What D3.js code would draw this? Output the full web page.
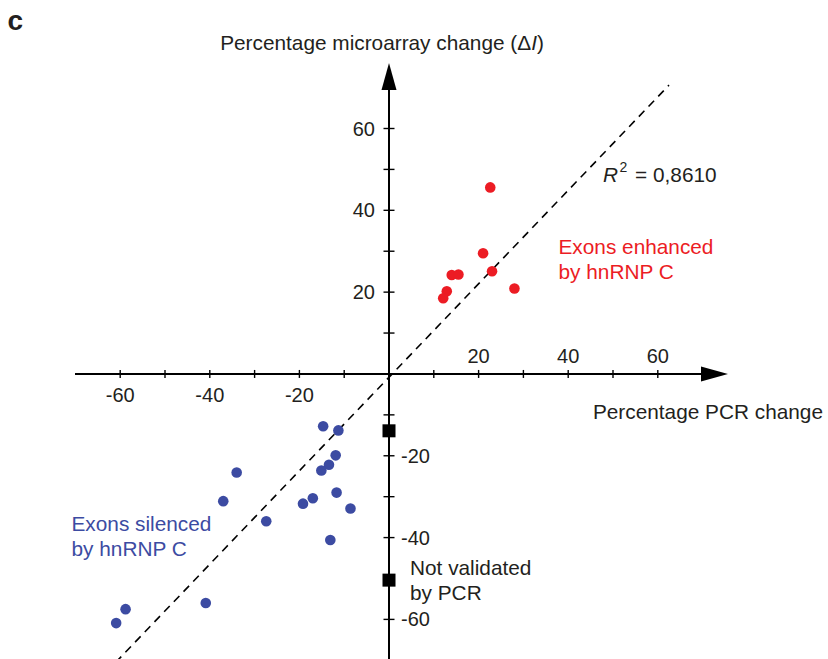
<!DOCTYPE html>
<html>
<head>
<meta charset="utf-8">
<script src="https://cdn.jsdelivr.net/npm/d3@7"></script>
<style>
  html, body { margin: 0; padding: 0; background: #fff; }
  svg { display: block; font-family: 'Liberation Sans', Arial, Helvetica, sans-serif; }
</style>
</head>
<body>
<div id="chart"></div>
<script>
// Data: exons enhanced by hnRNP C (red)
const enhancedX = [22.6, 21.0, 14.0, 15.5, 23.0, 12.9, 12.1, 28.0]
const enhancedY = [45.6, 29.5, 24.2, 24.3, 25.1, 20.2, 18.5, 20.9]

// Data: exons silenced by hnRNP C (blue)
const silencedX = [-14.7, -11.3, -11.9, -13.4, -15.1, -34.0, -37.0, -19.2, -17.0, -11.7, -8.6, -27.4, -13.1, -40.9, -58.8, -60.9]
const silencedY = [-12.8, -13.8, -19.9, -22.2, -23.6, -24.1, -31.1, -31.7, -30.4, -29.0, -32.9, -36.0, -40.6, -56.0, -57.5, -60.9]

// Data: not validated by PCR (on the y axis)
const notValidatedY = [-13.9, -50.4]

// Regression line endpoints
const fitX = [-61, 62.5]
const fitY = [-70.5, 70.6]

// Ticks
const tickValues = [-60, -50, -40, -30, -20, -10, 10, 20, 30, 40, 50, 60]
const labelValues = [-60, -40, -20, 20, 40, 60]

// Colors
const enhancedColor = '#ec1c24'
const silencedColor = '#3c4ba2'
const fontColor = '#231f20'

// Dimensions
const width = 828
const height = 659
const fontSize = 20.8
const tickFontSize = 20
const lineGap = 25.3

const svg = d3.select('#chart')
    .append('svg')
    .attr('width', width)
    .attr('height', height)

const x = d3.scaleLinear().domain([-60, 60]).range([120.2, 657.8])
const y = d3.scaleLinear().domain([-60, 60]).range([619.4, 128.5])

const x0 = x(0)
const y0 = y(0)

// Regression line
svg.append('line')
    .attr('x1', x(fitX[0])).attr('y1', y(fitY[0]))
    .attr('x2', x(fitX[1])).attr('y2', y(fitY[1]))
    .attr('stroke', '#000')
    .attr('stroke-width', 1.6)
    .attr('stroke-dasharray', '8,6')

// Axes
const axes = svg.append('g').attr('stroke', '#000')
axes.append('line')
    .attr('x1', 75).attr('x2', 705)
    .attr('y1', y0).attr('y2', y0)
    .attr('stroke-width', 2)
axes.append('line')
    .attr('x1', x0).attr('x2', x0)
    .attr('y1', 86).attr('y2', height)
    .attr('stroke-width', 2)

svg.append('path')
    .attr('d', `M728,${y0} L701,${y0 - 7.5} L701,${y0 + 7.5} Z`)
    .attr('fill', '#000')
svg.append('path')
    .attr('d', `M${x0},63 L${x0 - 7.5},90 L${x0 + 7.5},90 Z`)
    .attr('fill', '#000')

// Tick marks
axes.selectAll('.xtick')
    .data(tickValues)
    .join('line')
    .attr('x1', d => x(d)).attr('x2', d => x(d))
    .attr('y1', y0 - 4).attr('y2', y0 + 4)
    .attr('stroke-width', 1.4)
axes.selectAll('.ytick')
    .data(tickValues)
    .join('line')
    .attr('class', 'ytick')
    .attr('x1', x0 - 5.5).attr('x2', x0 + 5.5)
    .attr('y1', d => y(d)).attr('y2', d => y(d))
    .attr('stroke-width', 1.4)

// Tick labels
const labels = svg.append('g')
    .attr('fill', fontColor)
    .attr('font-size', tickFontSize)

labels.selectAll('.xlab')
    .data(labelValues)
    .join('text')
    .attr('x', d => x(d))
    .attr('y', d => d < 0 ? y0 + 28 : y0 - 10.5)
    .attr('text-anchor', 'middle')
    .text(d => d)

labels.selectAll('.ylab')
    .data(labelValues)
    .join('text')
    .attr('class', 'ylab')
    .attr('x', d => d < 0 ? x0 + 12 : x0 - 14)
    .attr('y', d => y(d) + 7)
    .attr('text-anchor', d => d < 0 ? 'start' : 'end')
    .text(d => d)

// Points
svg.selectAll('.enh')
    .data(enhancedX.map((d, i) => [d, enhancedY[i]]))
    .join('circle')
    .attr('cx', d => x(d[0]))
    .attr('cy', d => y(d[1]))
    .attr('r', 5.3)
    .attr('fill', enhancedColor)

svg.selectAll('.sil')
    .data(silencedX.map((d, i) => [d, silencedY[i]]))
    .join('circle')
    .attr('class', 'sil')
    .attr('cx', d => x(d[0]))
    .attr('cy', d => y(d[1]))
    .attr('r', 5.3)
    .attr('fill', silencedColor)

svg.selectAll('.nv')
    .data(notValidatedY)
    .join('rect')
    .attr('class', 'nv')
    .attr('x', x0 - 6.5)
    .attr('y', d => y(d) - 6.5)
    .attr('width', 13)
    .attr('height', 13)
    .attr('fill', '#000')

// Texts
svg.append('text')
    .attr('x', 7.5).attr('y', 30)
    .attr('font-size', 28)
    .attr('font-weight', 'bold')
    .attr('fill', fontColor)
    .text('c')

const yTitle = svg.append('text')
    .attr('x', 382).attr('y', 49.5)
    .attr('text-anchor', 'middle')
    .attr('font-size', fontSize)
    .attr('fill', fontColor)
yTitle.append('tspan').text('Percentage microarray change (\u0394')
yTitle.append('tspan').attr('font-style', 'italic').text('I')
yTitle.append('tspan').text(')')

svg.append('text')
    .attr('x', 823).attr('y', 419.3)
    .attr('text-anchor', 'end')
    .attr('font-size', fontSize)
    .attr('fill', fontColor)
    .text('Percentage PCR change')

const r2 = svg.append('text')
    .attr('x', 603).attr('y', 182)
    .attr('font-size', fontSize)
    .attr('fill', fontColor)
r2.append('tspan').attr('font-style', 'italic').text('R')
r2.append('tspan').attr('font-size', 14).attr('dx', 1.5).attr('dy', -10).text('2')
r2.append('tspan').attr('dx', 2).attr('dy', 10).text(' = 0,8610')

function block(lines, px, py, color) {
    const t = svg.append('text')
        .attr('font-size', fontSize)
        .attr('fill', color)
    lines.forEach((s, i) => {
        t.append('tspan').attr('x', px).attr('y', py + i * lineGap).text(s)
    })
}
block(['Exons enhanced', 'by hnRNP C'], 558.5, 253.5, enhancedColor)
block(['Exons silenced', 'by hnRNP C'], 71.5, 531, silencedColor)
block(['Not validated', 'by PCR'], 410, 575, fontColor)
</script>
</body>
</html>
